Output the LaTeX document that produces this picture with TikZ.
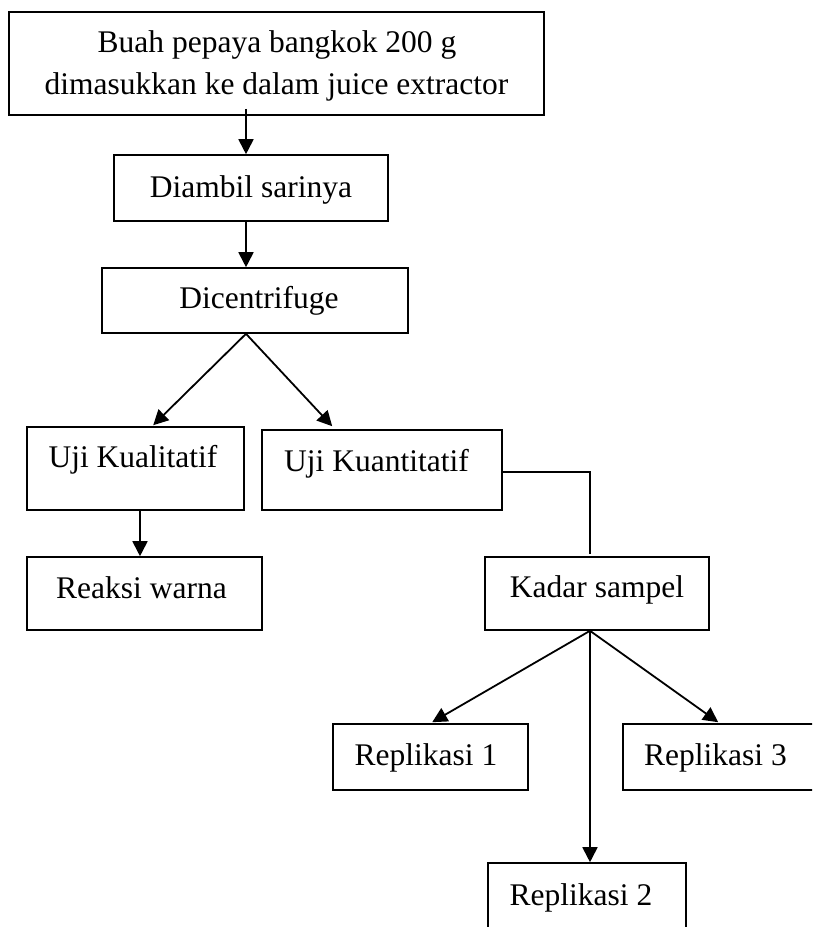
\documentclass[tikz,border=0pt]{standalone}
\usepackage{fontspec}
\setmainfont{Liberation Serif}
\usetikzlibrary{arrows.meta,calc}
\begin{document}
\begin{tikzpicture}[x=1pt,y=-1pt,
  box/.style={draw,line width=1.6pt,rectangle,inner sep=0pt},
  txt/.style={anchor=base,inner sep=0pt,font=\fontsize{31.5}{38}\selectfont},
  arr/.style={line width=1.8pt,-{Triangle[length=15pt,width=15pt]}},
  plain/.style={line width=1.5pt}]
\clip (0,0) rectangle (812,927);
\fill[white] (0,0) rectangle (812,927);
% boxes
\node[box,minimum width=535pt,minimum height=103pt] (top) at (276.5,63.5) {};
\node[box,minimum width=274pt,minimum height=66pt] (diambil) at (251,188) {};
\node[box,minimum width=306pt,minimum height=65pt] (dicen) at (255,300.5) {};
\node[box,minimum width=217pt,minimum height=83pt] (kual) at (135.5,468.5) {};
\node[box,minimum width=240pt,minimum height=80pt] (kuan) at (382,470) {};
\node[box,minimum width=235pt,minimum height=73pt] (reaksi) at (144.5,593.5) {};
\node[box,minimum width=224pt,minimum height=73pt] (kadar) at (597,593.5) {};
\node[box,minimum width=195pt,minimum height=66pt] (rep1) at (430.5,757) {};
\node[box,minimum width=207pt,minimum height=66pt] (rep3) at (726.5,757) {};
\node[box,minimum width=198pt,minimum height=97pt] (rep2) at (587,911.5) {};
% texts
\node[txt] (ttop1) at (277,52) {Buah pepaya bangkok 200 g};
\node[txt] (ttop2) at (276.5,94) {dimasukkan ke dalam juice extractor};
\node[txt] (tdiambil) at (251,197) {Diambil sarinya};
\node[txt] (tdicen) at (259,308) {Dicentrifuge};
\node[txt] (tkual) at (133,467) {Uji Kualitatif};
\node[txt] (tkuan) at (376.5,471) {Uji Kuantitatif};
\node[txt] (treaksi) at (141.5,598) {Reaksi warna};
\node[txt] (tkadar) at (597,597) {Kadar sampel};
\node[txt] (trep1) at (426,765) {Replikasi 1};
\node[txt] (trep3) at (715.5,765) {Replikasi 3};
\node[txt] (trep2) at (581,905) {Replikasi 2};
% connectors
\coordinate (c1) at (246,0);
\coordinate (c2) at (140,0);
\coordinate (c3) at (590,0);
\draw[arr] ($(top.south -| c1)+(0,-7)$) -- (diambil.north -| c1);
\draw[arr] (diambil.south -| c1) -- (dicen.north -| c1);
\draw[arr] (dicen.south -| c1) -- ($(kual.north west)+(127,-1)$);
\draw[arr] (dicen.south -| c1) -- ($(kuan.north west)+(71,-3)$);
\draw[arr] (kual.south -| c2) -- (reaksi.north -| c2);
\draw[plain] ($(kuan.east)+(0,2)$) -| ($(kadar.north -| c3)+(0,-2)$);
\draw[arr] (kadar.south -| c3) -- ($(rep1.north west)+(100,-1)$);
\draw[arr] (kadar.south -| c3) -- (rep2.north -| c3);
\draw[arr] (kadar.south -| c3) -- ($(rep3.north west)+(96,-1)$);
\end{tikzpicture}
\end{document}
